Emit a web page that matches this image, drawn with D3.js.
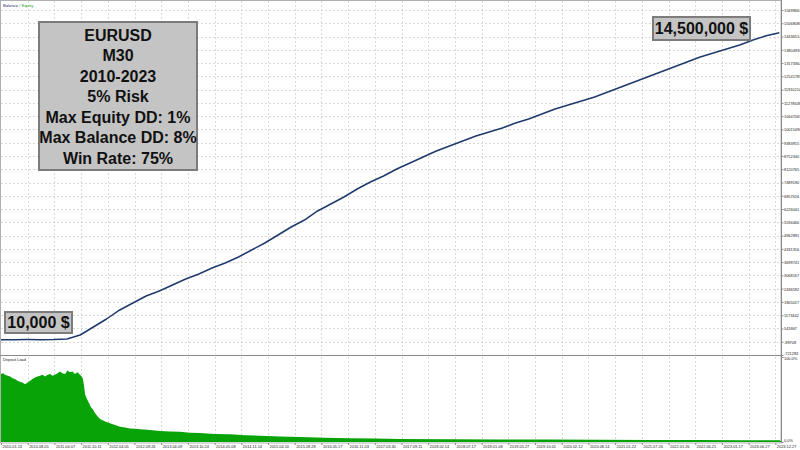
<!DOCTYPE html>
<html><head><meta charset="utf-8">
<script src="https://cdn.jsdelivr.net/npm/d3@7/dist/d3.min.js"></script>
<style>body{margin:0;background:#fff}svg{display:block}</style>
</head><body><svg id="c" width="800" height="450"></svg>
<script>
// ---- data ----
const totalTrades = 2925;
const balance = [10000,10000,11000,9000,14000,40000,231000,611000,992000,1421000,1754000,2087000,2325000,2611000,2896000,3134000,3420000,3658000,3943000,4276000,4610000,4990000,5371000,5704000,6133000,6466000,6799000,7180000,7513000,7799000,8132000,8417000,8703000,8989000,9226000,9464000,9702000,9893000,10083000,10321000,10512000,10750000,10988000,11178000,11368000,11559000,11797000,12035000,12273000,12511000,12749000,12987000,13225000,13463000,13653000,13843000,14034000,14272000,14470000,14620000];
const lastBalanceTrade = 2915;
const loadTrades = [0,8,15,25,34,43,52,62,71,80,90,100,109,118,127,137,146,155,165,175,184,193,202,212,221,230,240,249,258,268,277,286,296,302,307,311,315,320,326,331,337,345,352,362,371,390,408,427,446,465,483,502,521,558,596,633,670,708,745,800,858,914,970,1045,1120,1213,1307,1400,1494,1680,1869,2056,2243,2430,2618,2768,2918];
const loadPct = [80,81,79,78,77,75,74,72,71,70,68,70,72,74,76,77,78,79,77,79,80,78,79,81,83,81,80,84,82,83,80,82,79,77,74,66,56,52,48,45,41,38,34,30,27,24,22,20,18,17,16,15.5,15,14,13,12.5,12,11,10.5,9.5,9,8,7.5,6.5,6,5,4.5,4,3.5,3.2,3,2.8,2.7,2.5,2.3,2.2,2];
const yTickLabels = ["-721283","-89708","541867","1173442","1805017","2436592","3068167","3699741","4331316","4962891","5594466","6226041","6857616","7489190","8120765","8752340","9383915","10015490","10647065","11278639","11910214","12541789","13173364","13804939","14436514","15068088","15699663"];
const dateLabels = ["2010.01.13","2010.08.05","2011.04.07","2011.10.11","2012.04.05","2012.09.26","2013.04.09","2013.10.24","2014.05.08","2014.11.14","2015.04.10","2015.09.28","2016.05.17","2016.11.03","2017.03.30","2017.09.11","2018.02.14","2018.07.17","2019.01.08","2019.05.27","2019.10.01","2020.02.12","2020.08.14","2021.01.22","2021.07.26","2022.01.26","2022.06.21","2023.01.17","2023.06.27","2023.12.27"];
const tradesPerDateTick = 100;
const loadTickLabels = ["0.0%","100.0%"];
const infoLines = ["EURUSD","M30","2010-2023","5% Risk","Max Equity DD: 1%","Max Balance DD: 8%","Win Rate: 75%"];
const startLabel = "10,000 $";
const endLabel = "14,500,000 $";
const legendParts = [["Balance","#1a2f80"],[" / ","#555"],["Equity","#1a9a1a"]];

// ---- layout ----
const svg = d3.select("#c");
const axisX = 781;
const x = d3.scaleLinear().domain([0, totalTrades]).range([1, 782]);
const y = d3.scaleLinear().domain([-721283, 15699663]).range([355, 10]);
const yL = d3.scaleLinear().domain([0, 100]).range([442, 357]);
const small = "font-family:'Liberation Sans',Arial,sans-serif;font-size:3.9px;fill:#222";

// frame
svg.append("rect").attr("x",0.5).attr("y",0.5).attr("width",axisX-0.5).attr("height",442.5)
  .attr("fill","#fff").attr("stroke","#b0b0b0").attr("stroke-width",1);

// grid
const grid = svg.append("g").attr("stroke","#cfcfcf").attr("stroke-width",0.8).attr("stroke-dasharray","2,2");
yTickLabels.forEach(t=>{
  const v=+t;
  grid.append("line").attr("x1",1).attr("x2",axisX).attr("y1",Math.round(y(v))+0.5).attr("y2",Math.round(y(v))+0.5);
});
dateLabels.forEach((d,i)=>{
  const xx=Math.round(x(i*tradesPerDateTick))+0.5;
  if(i>0){
    grid.append("line").attr("x1",xx).attr("x2",xx).attr("y1",1).attr("y2",354);
    grid.append("line").attr("x1",xx).attr("x2",xx).attr("y1",357).attr("y2",442);
  }
});

// deposit load area
const loadData = loadTrades.map((t,i)=>({t,v:loadPct[i]}));
svg.append("path").datum(loadData)
  .attr("d", d3.area().x(d=>x(d.t)).y0(yL(0)).y1(d=>yL(d.v)))
  .attr("fill","#07a307");
svg.append("line").attr("x1",1).attr("x2",axisX).attr("y1",441.5).attr("y2",441.5).attr("stroke","#05a005").attr("stroke-width",1.2);

// balance line
const balData = balance.map((v,i)=>({t: i*lastBalanceTrade/(balance.length-1), v}));
svg.append("path").datum(balData)
  .attr("d", d3.line().x(d=>x(d.t)).y(d=>y(d.v)))
  .attr("fill","none").attr("stroke","#1e3a6d").attr("stroke-width",1.5).attr("stroke-linejoin","round");

// separator & right axis
svg.append("line").attr("x1",0).attr("x2",axisX).attr("y1",355.5).attr("y2",355.5).attr("stroke","#8a8a8a").attr("stroke-width",1.2);
svg.append("line").attr("x1",axisX+0.5).attr("x2",axisX+0.5).attr("y1",0).attr("y2",443).attr("stroke","#8a8a8a").attr("stroke-width",1);

// right axis labels (main)
const ax = d3.axisRight(y).tickValues(yTickLabels.map(Number)).tickFormat((d,i)=>yTickLabels[i]).tickSize(2);
const axG = svg.append("g").attr("transform",`translate(${axisX+0.5},0)`).call(ax);
axG.select(".domain").remove();
axG.selectAll("line").attr("stroke","#8a8a8a");
axG.selectAll("text").attr("style",small).attr("x",2.5).attr("dy","0.35em");
axG.selectAll(".tick").filter((d,i)=>i===0).select("text").attr("y",-2);
// load axis labels
const axL = d3.axisRight(yL).tickValues([0,100]).tickFormat((d,i)=>loadTickLabels[i]).tickSize(2);
const axLG = svg.append("g").attr("transform",`translate(${axisX+0.5},0)`).call(axL);
axLG.select(".domain").remove();
axLG.selectAll("line").attr("stroke","#8a8a8a");
axLG.selectAll("text").attr("style",small).attr("x",2.5).attr("dy","0.35em");
axLG.selectAll(".tick").filter((d,i)=>i===1).select("text").attr("y",1.5);
axLG.selectAll(".tick").filter((d,i)=>i===0).select("text").attr("y",-1.5);

// date labels
const axB = d3.axisBottom(x).tickValues(dateLabels.map((d,i)=>i*tradesPerDateTick)).tickFormat((d,i)=>dateLabels[i]).tickSize(2);
const axBG = svg.append("g").attr("transform","translate(0,443)").call(axB);
axBG.select(".domain").remove();
axBG.selectAll("line").attr("stroke","#8a8a8a");
axBG.selectAll("text").attr("style",small).attr("text-anchor","start").attr("x",1).attr("y",2.2).attr("dy","0.71em");

// legend & panel title
const lg = svg.append("text").attr("x",3).attr("y",6.5).attr("style","font-family:'Liberation Sans',Arial,sans-serif;font-size:4.2px");
legendParts.forEach(p=>lg.append("tspan").attr("fill",p[1]).text(p[0]));
svg.append("text").attr("x",3).attr("y",361).attr("style",small).text("Deposit Load");

// annotation boxes
const big = "font-family:'Liberation Sans',Arial,sans-serif;font-weight:bold;font-size:16px;fill:#111";
function box(x0,y0,w,h){
  svg.append("rect").attr("x",x0).attr("y",y0).attr("width",w).attr("height",h)
    .attr("fill","#c4c4c4").attr("stroke","#7c7c7c").attr("stroke-width",2);
}
box(39,22,158,148);
infoLines.forEach((t,i)=>{
  svg.append("text").attr("x",118).attr("y",35+i*20.5).attr("text-anchor","middle").attr("dominant-baseline","central").attr("style",big).text(t);
});
box(5,312,67,21);
svg.append("text").attr("x",38.5).attr("y",322.5).attr("text-anchor","middle").attr("dominant-baseline","central").attr("style",big).text(startLabel);
box(653,17,97,23);
svg.append("text").attr("x",701.5).attr("y",28.5).attr("text-anchor","middle").attr("dominant-baseline","central").attr("style",big).text(endLabel);
</script></body></html>
